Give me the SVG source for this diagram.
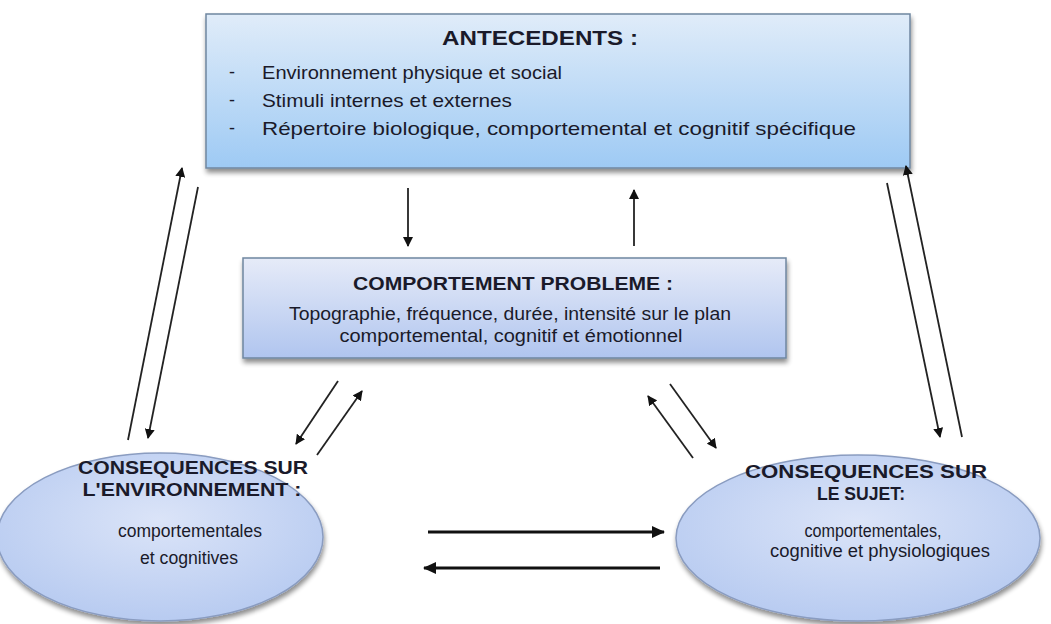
<svg xmlns="http://www.w3.org/2000/svg" width="1051" height="624" viewBox="0 0 1051 624">
<defs>
<linearGradient id="gTop" x1="0" y1="0" x2="0" y2="1">
<stop offset="0" stop-color="#e0ecf9"/>
<stop offset="1" stop-color="#9ecaf4"/>
</linearGradient>
<linearGradient id="gMid" x1="0" y1="0" x2="0" y2="1">
<stop offset="0" stop-color="#e6ebf8"/>
<stop offset="1" stop-color="#b0c5ef"/>
</linearGradient>
<radialGradient id="gEll" cx="0.5" cy="0.4" r="0.65">
<stop offset="0" stop-color="#dbe4f8"/>
<stop offset="1" stop-color="#b5c9f0"/>
</radialGradient>
<filter id="sh" x="-10%" y="-10%" width="120%" height="130%">
<feGaussianBlur in="SourceAlpha" stdDeviation="2.5"/>
<feOffset dx="1" dy="4"/>
<feComponentTransfer><feFuncA type="linear" slope="0.45"/></feComponentTransfer>
<feMerge><feMergeNode/><feMergeNode in="SourceGraphic"/></feMerge>
</filter>
<marker id="ah" markerWidth="10" markerHeight="10" viewBox="0 0 10 10" refX="9" refY="5" orient="auto" markerUnits="userSpaceOnUse">
<path d="M0,0 L10,5 L0,10 Z" fill="#111"/>
</marker>
<marker id="ah2" markerWidth="13" markerHeight="12" viewBox="0 0 13 12" refX="12" refY="6" orient="auto" markerUnits="userSpaceOnUse">
<path d="M0,0 L13,6 L0,12 Z" fill="#111"/>
</marker>
</defs>
<style>
.box{stroke:#6f86a0;stroke-width:1.5}
.ell{stroke:#8a9cc0;stroke-width:1.5}
.t{font-family:"Liberation Sans",Arial,sans-serif;fill:#1a1a2a}
.b{font-weight:bold}
.c{text-anchor:middle}
.ln{stroke:#222;stroke-width:1.8;fill:none;marker-end:url(#ah)}
.hz{stroke:#111;stroke-width:3;fill:none;marker-end:url(#ah2)}
</style>
<rect width="1051" height="624" fill="#ffffff"/>

<g id="antecedents">
<rect class="box" x="206" y="14" width="704" height="154" fill="url(#gTop)" filter="url(#sh)"/>
<text class="t b c" x="540" y="45" font-size="20" textLength="196" lengthAdjust="spacingAndGlyphs">ANTECEDENTS :</text>
<text class="t" x="229" y="78" font-size="18">-</text>
<text class="t" x="229" y="106" font-size="18">-</text>
<text class="t" x="229" y="134" font-size="18" fill="#666">-</text>
<text class="t" x="262" y="79" font-size="18.5" textLength="300" lengthAdjust="spacingAndGlyphs">Environnement physique et social</text>
<text class="t" x="262" y="107" font-size="18.5" textLength="250" lengthAdjust="spacingAndGlyphs">Stimuli internes et externes</text>
<text class="t" x="262" y="135" font-size="18.5" textLength="594" lengthAdjust="spacingAndGlyphs">Répertoire biologique, comportemental et cognitif spécifique</text>
</g>

<g id="comportement">
<rect class="box" x="243" y="258" width="543" height="100" fill="url(#gMid)" filter="url(#sh)"/>
<text class="t b c" x="513" y="290" font-size="19" textLength="320" lengthAdjust="spacingAndGlyphs">COMPORTEMENT PROBLEME :</text>
<text class="t c" x="510" y="320" font-size="17.5" textLength="442" lengthAdjust="spacingAndGlyphs">Topographie, fréquence, durée, intensité sur le plan</text>
<text class="t c" x="511" y="342" font-size="17.5" textLength="343" lengthAdjust="spacingAndGlyphs">comportemental, cognitif et émotionnel</text>
</g>

<g id="consequences-environnement">
<ellipse class="ell" cx="160" cy="537" rx="163" ry="84" fill="url(#gEll)" filter="url(#sh)"/>
<text class="t b c" x="193" y="474" font-size="19" textLength="230" lengthAdjust="spacingAndGlyphs">CONSEQUENCES SUR</text>
<text class="t c" x="192" y="496" font-size="19" font-weight="600" textLength="219" lengthAdjust="spacingAndGlyphs">L'ENVIRONNEMENT :</text>
<text class="t c" x="190" y="537" font-size="17.5" textLength="144" lengthAdjust="spacingAndGlyphs">comportementales</text>
<text class="t c" x="189" y="564" font-size="17.5" textLength="98" lengthAdjust="spacingAndGlyphs">et cognitives</text>
</g>

<g id="consequences-sujet">
<ellipse class="ell" cx="858" cy="538" rx="182" ry="83" fill="url(#gEll)" filter="url(#sh)"/>
<text class="t b c" x="866" y="478" font-size="19" textLength="242" lengthAdjust="spacingAndGlyphs">CONSEQUENCES SUR</text>
<text class="t c" x="861" y="500" font-size="19" font-weight="600" textLength="88" lengthAdjust="spacingAndGlyphs">LE SUJET:</text>
<text class="t c" x="873" y="537" font-size="17.5" textLength="137" lengthAdjust="spacingAndGlyphs">comportementales,</text>
<text class="t c" x="880" y="557" font-size="17.5" textLength="220" lengthAdjust="spacingAndGlyphs">cognitive et physiologiques</text>
</g>

<g id="connectors">
<line class="ln" x1="408" y1="188" x2="408" y2="246"/>
<line class="ln" x1="634" y1="246" x2="634" y2="190"/>
<line class="ln" x1="128" y1="440" x2="182" y2="168"/>
<line class="ln" x1="198" y1="187" x2="148" y2="438"/>
<line class="ln" x1="962" y1="437" x2="906" y2="166"/>
<line class="ln" x1="887" y1="183" x2="940" y2="437"/>
<line class="ln" x1="338" y1="381" x2="296" y2="444"/>
<line class="ln" x1="317" y1="455" x2="362" y2="391"/>
<line class="ln" x1="693" y1="458" x2="648" y2="396"/>
<line class="ln" x1="670" y1="384" x2="716" y2="448"/>
<line class="hz" x1="428" y1="532" x2="664" y2="532"/>
<line class="hz" x1="660" y1="568" x2="424" y2="568"/>
</g>
</svg>
